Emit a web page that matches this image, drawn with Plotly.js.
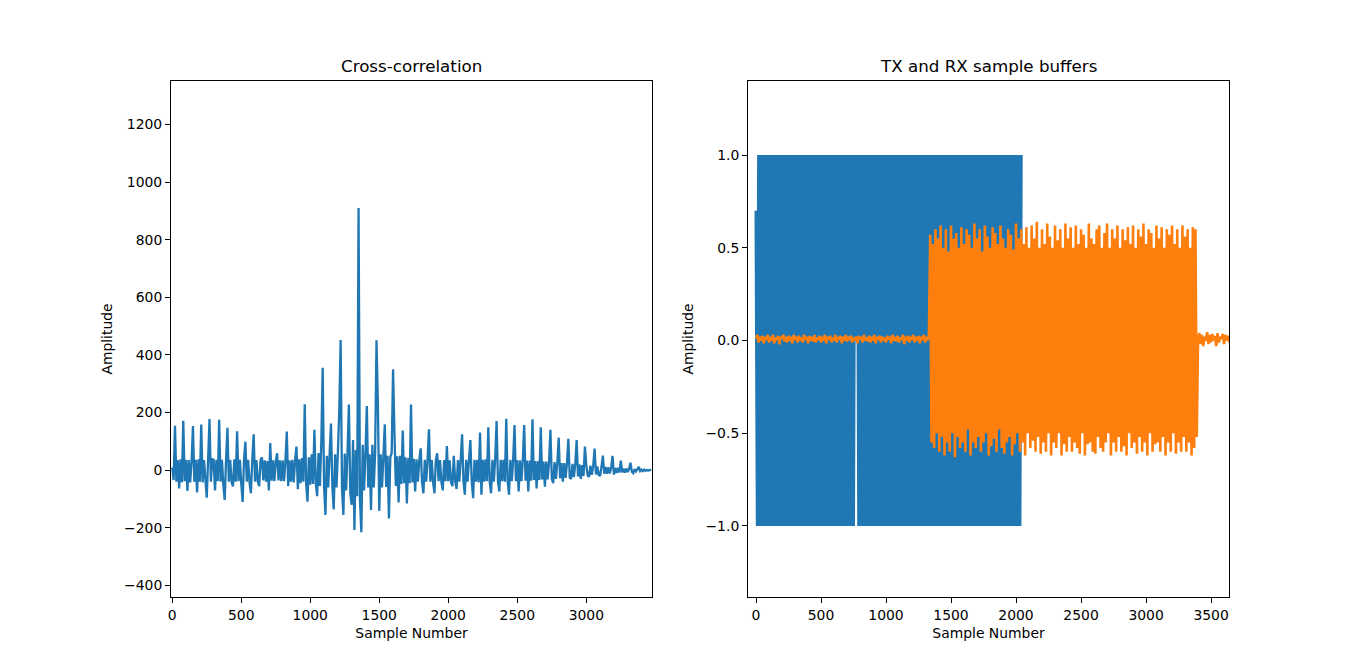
<!DOCTYPE html>
<html>
<head>
<meta charset="utf-8">
<script src="https://cdn.plot.ly/plotly-3.0.1.min.js"></script>
<style>
  html, body { margin: 0; padding: 0; background: #fff; }
  #plot { width: 1366px; height: 671px; }
</style>
</head>
<body>
<div id="plot"></div>
<script>
// cross-correlation, one value every 10 samples
const ccStep = 10
const ccAmplitude = [
  10, -34, 154, -40, 35, -63, 38, -42, 172, -38,
  36, -72, 35, -42, 30, 153, -40, 36, -77, 38,
  -40, 159, -42, 35, -30, -95, 38, 178, -40, 38,
  36, -70, 36, -38, 175, -40, 36, -50, -103, 38,
  147, -40, 36, -42, -56, 38, -40, 135, -38, 36,
  -45, -110, 36, 99, -40, 36, -42, -80, 36, 125,
  -40, 35, -38, -55, 36, 45, -35, 34, -40, 32,
  -70, 94, -36, 34, -38, 32, 59, -35, 34, -38,
  34, -38, 32, 134, -55, 34, -40, 36, -42, 34,
  82, -66, 38, -45, 42, -40, 229, -45, -109, 45,
  -50, 55, -48, 140, -45, -90, 60, -55, 94, 356,
  -55, -155, 50, -60, 55, 162, -58, -136, 55, -60,
  60, 203, 452, -65, -155, 58, -70, 65, 228, -80,
  -120, 105, -207, 70, -90, 910, -100, -215, 88, -70,
  60, 223, -60, 55, -138, 88, -60, 60, 451, 230,
  -141, 55, -60, 50, 159, -58, 50, -167, 45, 60,
  350, 130, -55, 48, -112, 50, -48, 138, -45, 45,
  -115, 42, -45, 228, -42, 40, -74, 38, -40, 36,
  76, -42, -80, 36, -40, 38, 142, -40, 36, -42,
  -80, 36, 59, -38, 35, -40, -70, 35, -38, 84,
  -38, 34, -42, -55, 50, -38, -65, 35, -40, 36,
  125, -38, -85, 36, -40, 36, 105, -40, -97, 36,
  -40, 36, -42, 131, -85, 36, -40, 38, -38, 149,
  -40, -80, 36, -40, 40, 171, -40, -74, 36, -38,
  36, -40, 179, -38, -85, 36, -38, 36, 157, -38,
  35, -74, 34, -38, 35, 157, -36, 34, -74, 34,
  -36, 177, -34, 32, -63, 32, -34, 149, -32, 30,
  -57, 30, -32, 28, 140, -30, -45, 28, -30, 26,
  113, -28, 25, -40, 25, -27, 24, 109, -25, -30,
  22, -24, 20, 105, -22, 20, -30, 18, -20, 82,
  16, -18, -23, 16, -16, 14, 75, -15, 13, -16,
  -20, 12, 51, -12, 11, -12, 10, -11, 9, 50,
  -15, 8, -9, 8, -8, 33, -7, 6, -8, 6,
  -6, 5, 26, -5, -10, 4, -4, 3, 12, -3,
  2, -3, 2, -2, 1, -1, 1, 0
]

// TX and RX buffers, one value every 10 samples
const bufStep = 10
const txBuffer = [
  0.7, -1, 1, -1, 1, -1, 1, -1, 1, -1,
  1, -1, 1, -1, 1, -1, 1, -1, 1, -1,
  1, -1, 1, -1, 1, -1, 1, -1, 1, -1,
  1, -1, 1, -1, 1, -1, 1, -1, 1, -1,
  1, -1, 1, -1, 1, -1, 1, -1, 1, -1,
  1, -1, 1, -1, 1, -1, 1, -1, 1, -1,
  1, -1, 1, -1, 1, -1, 1, -1, 1, -1,
  1, -1, 1, -1, 1, -1, 1, 0, 1, -1,
  1, -1, 1, -1, 1, -1, 1, -1, 1, -1,
  1, -1, 1, -1, 1, -1, 1, -1, 1, -1,
  1, -1, 1, -1, 1, -1, 1, -1, 1, -1,
  1, -1, 1, -1, 1, -1, 1, -1, 1, -1,
  1, -1, 1, -1, 1, -1, 1, -1, 1, -1,
  1, -1, 1, -1, 1, -1, 1, -1, 1, -1,
  1, -1, 1, -1, 1, -1, 1, -1, 1, -1,
  1, -1, 1, -1, 1, -1, 1, -1, 1, -1,
  1, -1, 1, -1, 1, -1, 1, -1, 1, -1,
  1, -1, 1, -1, 1, -1, 1, -1, 1, -1,
  1, -1, 1, -1, 1, -1, 1, -1, 1, -1,
  1, -1, 1, -1, 1, -1, 1, -1, 1, -1,
  1, -1, 1, -1, 1
]
const rxBuffer = [
  0.01, 0.03, -0.01, 0.02, 0.0, 0.025, -0.015, 0.02, 0.005, 0.03,
  -0.01, 0.02, 0.0, 0.03, -0.015, 0.015, 0.005, 0.025, -0.02, 0.02,
  0.01, 0.03, -0.005, 0.02, -0.01, 0.025, 0.0, 0.02, -0.015, 0.03,
  0.005, 0.02, -0.01, 0.025, 0.0, 0.015, -0.01, 0.03, 0.005, 0.02,
  -0.015, 0.025, 0.0, 0.02, -0.005, 0.03, -0.01, 0.015, 0.005, 0.025,
  -0.01, 0.02, 0.0, 0.03, -0.015, 0.02, 0.005, 0.025, -0.01, 0.015,
  0.0, 0.03, -0.01, 0.02, 0.005, 0.025, -0.015, 0.02, 0.0, 0.03,
  -0.005, 0.02, 0.01, 0.025, -0.01, 0.015, 0.0, 0.02, -0.015, 0.025,
  0.005, 0.02, -0.01, 0.03, 0.0, 0.015, -0.005, 0.025, -0.01, 0.02,
  0.0, 0.03, -0.015, 0.02, 0.005, 0.025, -0.01, 0.02, 0.0, 0.015,
  -0.01, 0.025, 0.005, 0.02, -0.015, 0.03, 0.0, 0.02, -0.005, 0.025,
  -0.01, 0.015, 0.005, 0.03, -0.02, 0.02, 0.0, 0.025, -0.01, 0.02,
  0.005, 0.03, -0.01, 0.02, 0.0, 0.025, -0.015, 0.02, 0.005, 0.03,
  -0.01, 0.02, 0.0, 0.025, 0.57, -0.55, 0.52, -0.58, 0.6, -0.5,
  0.55, -0.6, 0.62, -0.52, 0.5, -0.62, 0.6, -0.55, 0.48, -0.6,
  0.62, -0.5, 0.55, -0.63, 0.58, -0.52, 0.5, -0.58, 0.61, -0.55,
  0.52, -0.6, 0.6, -0.48, 0.57, -0.62, 0.5, -0.55, 0.63, -0.58,
  0.55, -0.52, 0.6, -0.6, 0.48, -0.55, 0.62, -0.5, 0.56, -0.62,
  0.5, -0.57, 0.61, -0.53, 0.58, -0.6, 0.52, -0.48, 0.62, -0.58,
  0.55, -0.61, 0.5, -0.55, 0.6, -0.52, 0.57, -0.62, 0.49, -0.56,
  0.63, -0.5, 0.55, -0.6, 0.6, -0.55, 0.52, -0.62, 0.61, -0.5,
  0.5, -0.58, 0.62, -0.54, 0.55, -0.6, 0.64, -0.52, 0.5, -0.61,
  0.6, -0.55, 0.52, -0.6, 0.63, -0.5, 0.56, -0.62, 0.5, -0.55,
  0.62, -0.58, 0.54, -0.5, 0.6, -0.62, 0.5, -0.56, 0.63, -0.6,
  0.55, -0.52, 0.61, -0.6, 0.5, -0.55, 0.62, -0.58, 0.52, -0.61,
  0.6, -0.5, 0.57, -0.62, 0.5, -0.56, 0.63, -0.55, 0.55, -0.6,
  0.52, -0.61, 0.6, -0.52, 0.62, -0.58, 0.5, -0.6, 0.58, -0.55,
  0.63, -0.5, 0.5, -0.62, 0.6, -0.55, 0.55, -0.6, 0.62, -0.52,
  0.5, -0.6, 0.6, -0.57, 0.54, -0.62, 0.61, -0.5, 0.52, -0.58,
  0.62, -0.55, 0.5, -0.61, 0.6, -0.52, 0.56, -0.6, 0.63, -0.55,
  0.52, -0.62, 0.6, -0.5, 0.58, -0.6, 0.5, -0.56, 0.62, -0.55,
  0.55, -0.6, 0.61, -0.52, 0.5, -0.62, 0.6, -0.55, 0.57, -0.6,
  0.62, -0.5, 0.52, -0.61, 0.6, -0.55, 0.5, -0.6, 0.62, -0.52,
  0.56, -0.6, 0.6, -0.55, 0.5, -0.62, 0.61, -0.58, 0.6, -0.52,
  0.01, 0.04, -0.02, 0.03, -0.03, 0.02, 0.0, 0.045, -0.02, 0.03,
  -0.01, 0.035, 0.0, 0.025, -0.03, 0.04, -0.01, 0.02, 0.01, 0.035,
  -0.02, 0.03, 0.0, 0.025, -0.01
]

const ccTicksX = [0, 500, 1000, 1500, 2000, 2500, 3000]
const ccTicksY = [-400, -200, 0, 200, 400, 600, 800, 1000, 1200]
const bufTicksX = [0, 500, 1000, 1500, 2000, 2500, 3000, 3500]
const bufTicksY = [-1, -0.5, 0, 0.5, 1]
const bufTickText = ['\u22121.0', '\u22120.5', '0.0', '0.5', '1.0']

function samples(values, step) {
  return values.map((v, i) => i * step)
}

const font = {family: 'DejaVu Sans, sans-serif', size: 13.9, color: '#000'}

function axis(extra) {
  return Object.assign({
    showline: true, mirror: true, linecolor: '#000', linewidth: 1,
    ticks: 'outside', ticklen: 5, tickwidth: 1, tickcolor: '#000',
    showgrid: false, zeroline: false, automargin: false,
    tickfont: font
  }, extra)
}

const data = [
  {
    x: samples(ccAmplitude, ccStep), y: ccAmplitude,
    type: 'scatter', mode: 'lines', xaxis: 'x', yaxis: 'y',
    line: {color: '#1f77b4', width: 2.3, simplify: false}
  },
  {
    x: samples(txBuffer, bufStep), y: txBuffer,
    type: 'scatter', mode: 'lines', xaxis: 'x2', yaxis: 'y2',
    line: {color: '#1f77b4', width: 3, simplify: false}
  },
  {
    x: samples(rxBuffer, bufStep), y: rxBuffer,
    type: 'scatter', mode: 'lines', xaxis: 'x2', yaxis: 'y2',
    line: {color: '#ff7f0e', width: 2.6, simplify: false}
  }
]

const layout = {
  width: 1366, height: 671,
  margin: {l: 0, r: 0, t: 0, b: 0},
  paper_bgcolor: '#fff', plot_bgcolor: '#fff',
  showlegend: false,
  font: font,
  xaxis: axis({
    domain: [171 / 1366, 652 / 1366], range: [-9, 3476], anchor: 'y',
    tickvals: ccTicksX,
    title: {text: 'Sample Number', standoff: 6, font: font}
  }),
  yaxis: axis({
    domain: [74 / 671, 590 / 671], range: [-440, 1351], anchor: 'x',
    tickvals: ccTicksY,
    ticktext: ccTicksY.map(v => (v < 0 ? '\u2212' + (-v) : String(v))),
    title: {text: 'Amplitude', standoff: 8, font: font}
  }),
  xaxis2: axis({
    domain: [748 / 1366, 1229 / 1366], range: [-61.5, 3638], anchor: 'y2',
    tickvals: bufTicksX,
    title: {text: 'Sample Number', standoff: 6, font: font}
  }),
  yaxis2: axis({
    domain: [74 / 671, 590 / 671], range: [-1.383, 1.399], anchor: 'x2',
    tickvals: bufTicksY, ticktext: bufTickText,
    title: {text: 'Amplitude', standoff: 8, font: font}
  }),
  annotations: [
    {
      text: 'Cross-correlation', xref: 'paper', yref: 'paper',
      x: (171 + 652) / 2 / 1366, y: 590 / 671, xanchor: 'center', yanchor: 'bottom',
      yshift: 3, showarrow: false, font: {family: font.family, size: 16.7, color: '#000'}
    },
    {
      text: 'TX and RX sample buffers', xref: 'paper', yref: 'paper',
      x: (748 + 1229) / 2 / 1366, y: 590 / 671, xanchor: 'center', yanchor: 'bottom',
      yshift: 3, showarrow: false, font: {family: font.family, size: 16.7, color: '#000'}
    }
  ]
}

Plotly.newPlot('plot', data, layout, {displayModeBar: false, staticPlot: true})
</script>
</body>
</html>
